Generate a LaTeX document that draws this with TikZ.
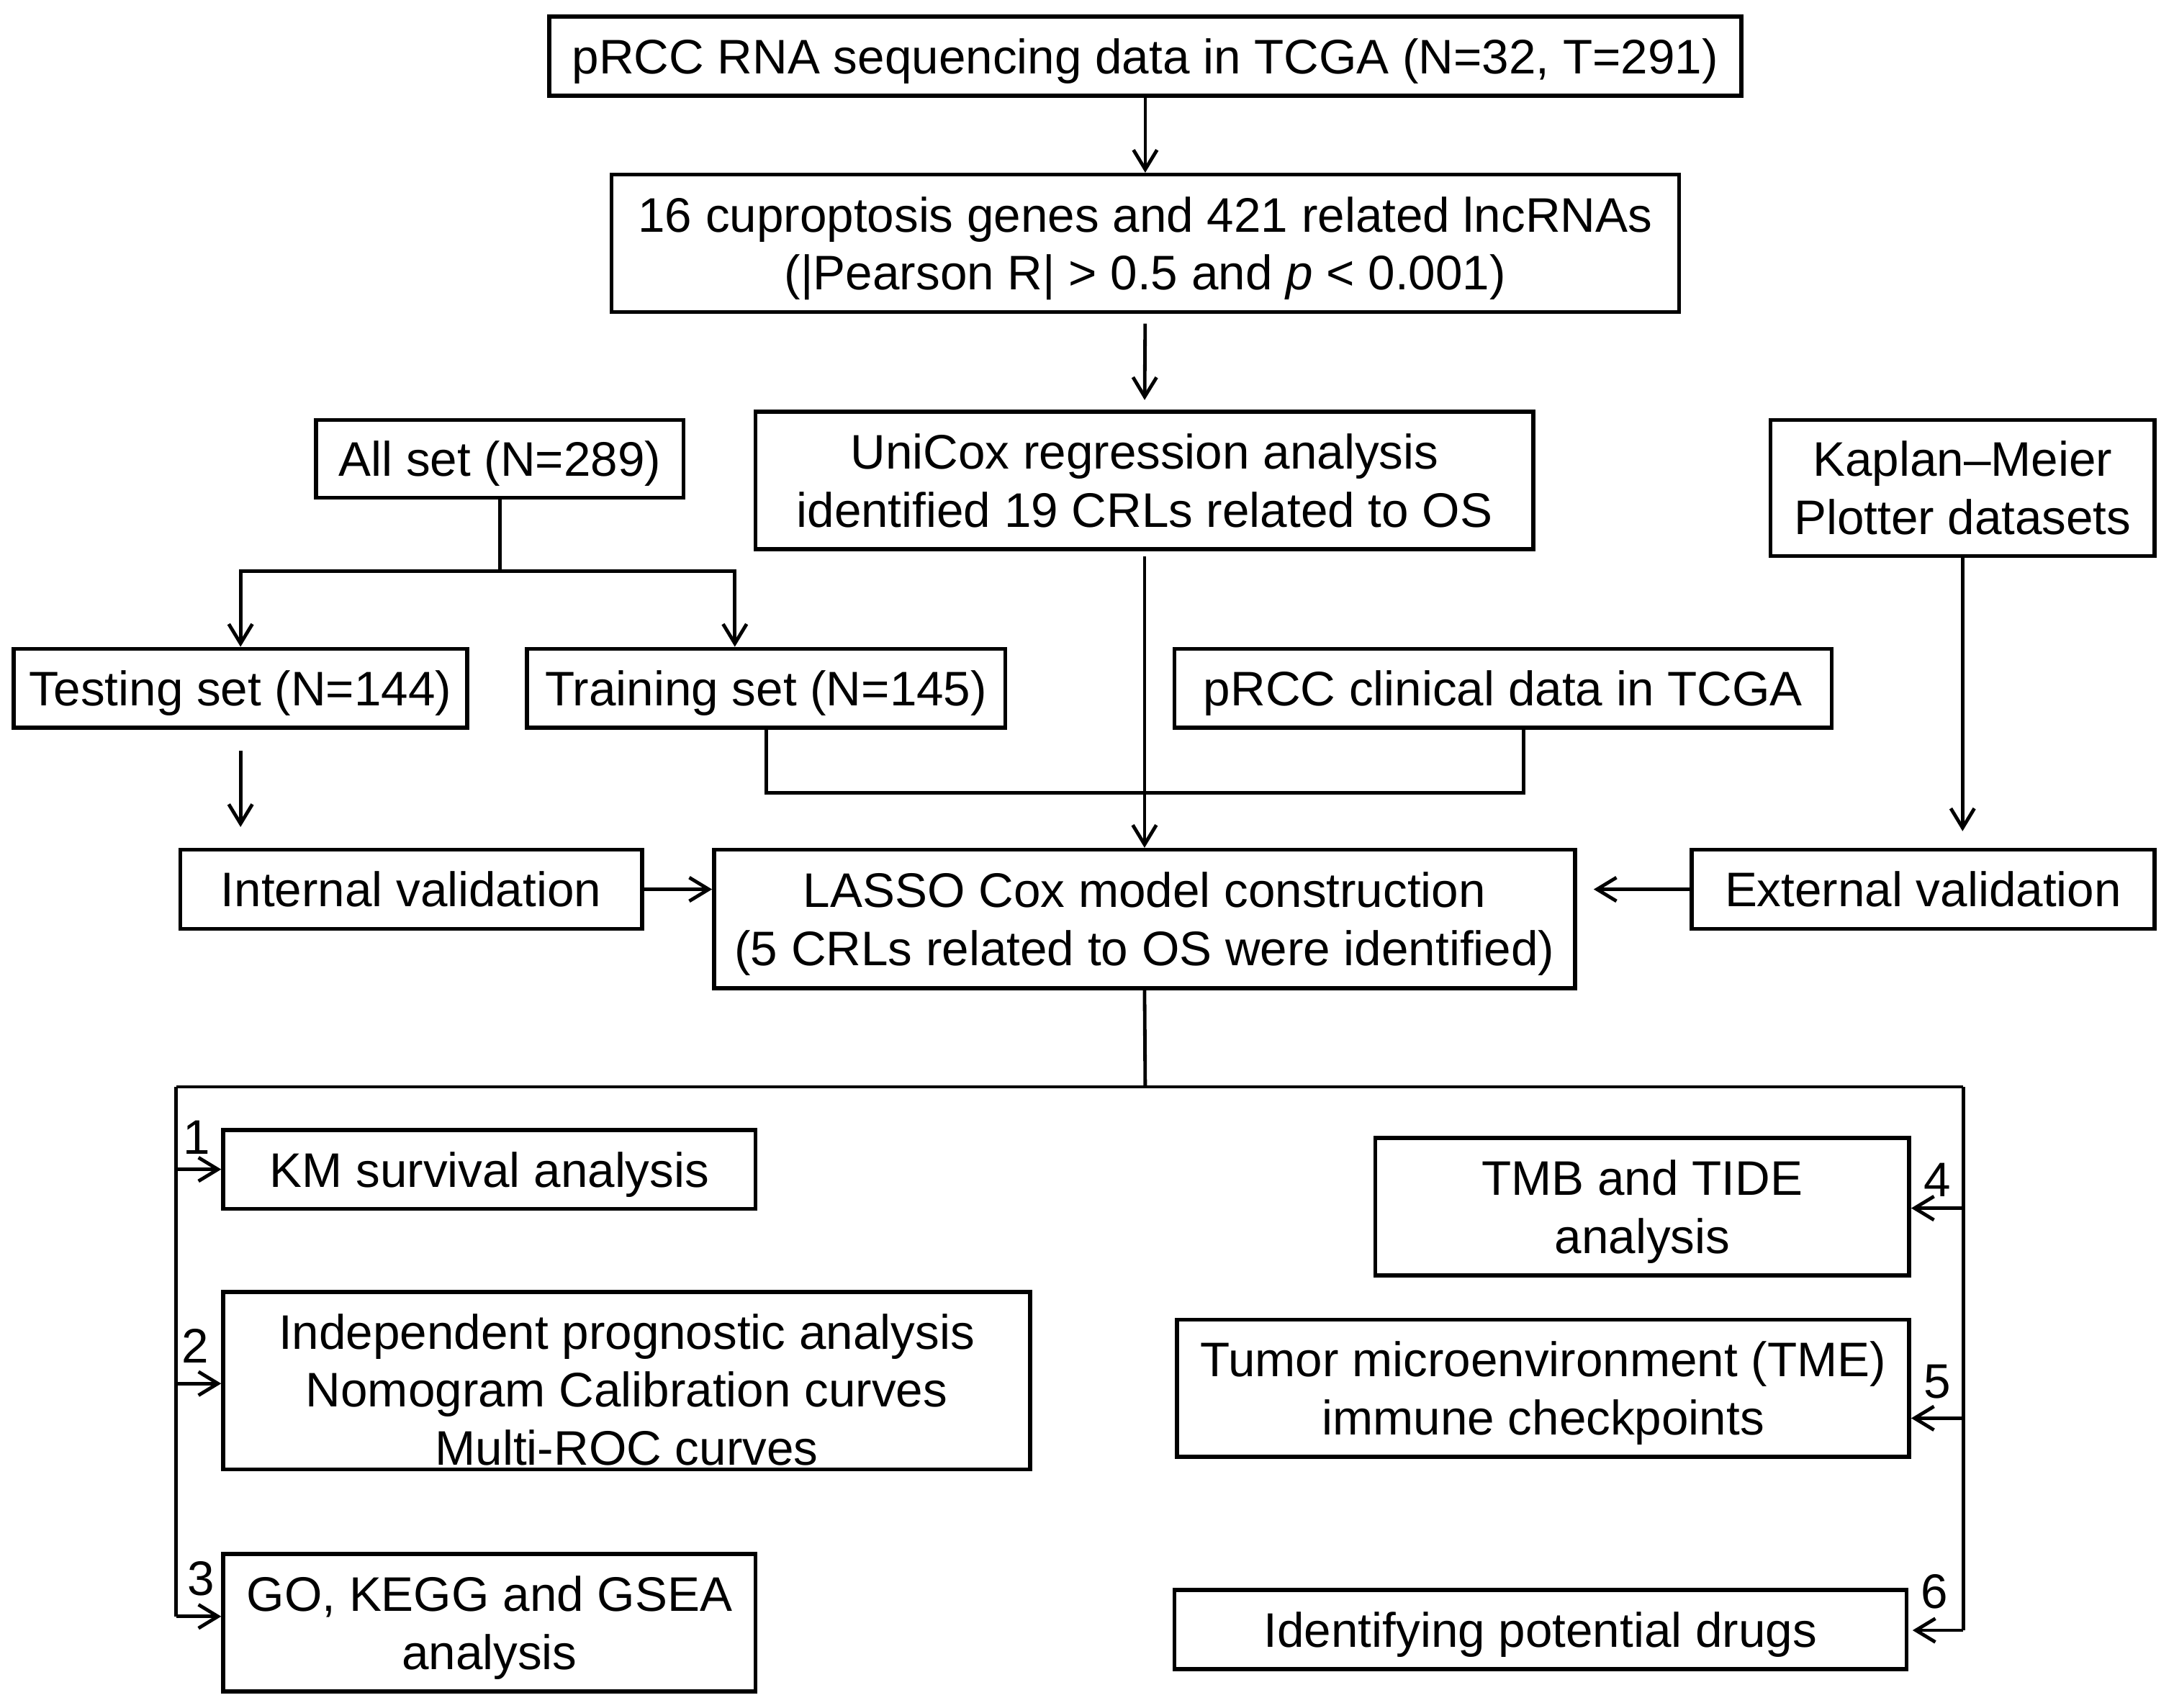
\documentclass[tikz,border=0pt]{standalone}
\usepackage{fontspec}
\setmainfont{Liberation Sans}
\usetikzlibrary{arrows.meta,calc}
\tikzset{
  box/.style={draw, line width=2.9pt, inner sep=0pt, align=center, anchor=center,
    text depth=0pt, font=\fontsize{35}{42}\selectfont},
  conn/.style={line width=2.5pt},
  arr/.style={conn, -{Straight Barb[length=14pt,width=17pt]}},
  num/.style={inner sep=0pt, font=\fontsize{35}{42}\selectfont}
}
\begin{document}
\begin{tikzpicture}[x=1pt,y=-1pt]
\useasboundingbox (0,0) rectangle (1568,1232);
% boxes
\node[box, minimum width=860, minimum height=57] (b1) at (826,40.5) {pRCC RNA sequencing data in TCGA (N=32, T=291)};
\node[box, minimum width=770, minimum height=99] (b2) at (826,175.5) {16 cuproptosis genes and 421 related lncRNAs\\(|Pearson R| > 0.5 and \textit{p} < 0.001)};
\node[box, minimum width=561, minimum height=99] (uni) at (825.5,346.5) {UniCox regression analysis\\identified 19 CRLs related to OS};
\node[box, minimum width=265, minimum height=56] (all) at (360.5,331) {All set (N=289)};
\node[box, minimum width=327, minimum height=57] (test) at (173.5,496.5) {Testing set (N=144)};
\node[box, minimum width=345, minimum height=57] (train) at (552.5,496.5) {Training set (N=145)};
\node[box, minimum width=474, minimum height=57] (clin) at (1084,496.5) {pRCC clinical data in TCGA};
\node[box, minimum width=277, minimum height=98] (plot) at (1415.5,352) {Kaplan–Meier\\Plotter datasets};
\node[box, minimum width=333, minimum height=57] (int) at (296.5,641.5) {Internal validation};
\node[box, minimum width=621, minimum height=100] (lasso) at (825.5,663) {LASSO Cox model construction\\(5 CRLs related to OS were identified)};
\node[box, minimum width=334, minimum height=57] (ext) at (1387,641.5) {External validation};
\node[box, minimum width=384, minimum height=57] (km) at (353,843.5) {KM survival analysis};
\node[box, minimum width=582, minimum height=128, text height=122pt] (ind) at (452,996) {Independent prognostic analysis\\Nomogram Calibration curves\\Multi-ROC curves};
\node[box, minimum width=384, minimum height=99] (go) at (353,1170.5) {GO, KEGG and GSEA\\analysis};
\node[box, minimum width=385, minimum height=99] (tmb) at (1184.5,870.5) {TMB and TIDE\\analysis};
\node[box, minimum width=528, minimum height=99] (tme) at (1113,1001.5) {Tumor microenvironment (TME)\\immune checkpoints};
\node[box, minimum width=528, minimum height=57] (drug) at (1111,1175.5) {Identifying potential drugs};
% coordinates
\coordinate (split) at (360.5,412);
\coordinate (trX) at (530,412);
\coordinate (jR) at (1099,572);
\coordinate (top) at (826,784);
\coordinate (tl) at (127,784);
\coordinate (tr) at (1416,784);
\coordinate (L1) at (127,843.5);
\coordinate (L2) at (127,998);
\coordinate (L3) at (127,1166);
\coordinate (R4) at (1416,871.5);
\coordinate (R5) at (1416,1023);
\coordinate (R6) at (1416,1176);
% connectors
\draw[arr] (b1.south) -- (b2.north);
\draw[arr, shorten <=7pt, shorten >=7pt] (b2.south) -- (uni.north);
\draw[arr, shorten <=4pt] (uni.south) -- (lasso.north);
\draw[conn] (all.south) -- (split);
\draw[arr] (split) -| (test.north);
\draw[arr] (split) -- (trX) -- (trX |- train.north);
\draw[conn] (train.south) |- (jR) -- (jR |- clin.south);
\draw[arr, shorten <=15pt, shorten >=15pt] (test.south) -- (test.south |- int.north);
\draw[arr] (int.east) -- (int.east -| lasso.west);
\draw[arr, shorten >=12pt] (plot.south) -- (plot.south |- ext.north);
\draw[arr, shorten >=12pt] (ext.west) -- (ext.west -| lasso.east);
\draw[conn] (lasso.south) -- (top);
\draw[conn] (tl) -- (tr);
\draw[conn] (tl) -- (L3);
\draw[conn] (tr) -- (R6);
\draw[arr] (L1) -- (L1 -| km.west);
\draw[arr] (L2) -- (L2 -| ind.west);
\draw[arr] (L3) -- (L3 -| go.west);
\draw[arr] (R4) -- (R4 -| tmb.east);
\draw[arr] (R5) -- (R5 -| tme.east);
\draw[arr, shorten >=3pt] (R6) -- (R6 -| drug.east);
% numbers
\node[num] (n1) at (142,820.5) {1};
\node[num] (n2) at (141,971) {2};
\node[num] (n3) at (145,1139) {3};
\node[num] (n4) at (1397.5,851) {4};
\node[num] (n5) at (1397.5,996.5) {5};
\node[num] (n6) at (1395,1148) {6};
\end{tikzpicture}
\end{document}
